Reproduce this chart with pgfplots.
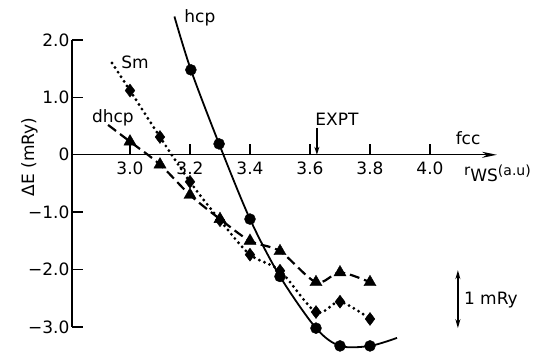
\documentclass[border=0pt]{standalone}
\usepackage{pgfplots}
\pgfplotsset{compat=1.18}
\usetikzlibrary{arrows.meta}
\usepackage{fontspec}
\setmainfont{DejaVu Sans}

\begin{document}
\begin{tikzpicture}
\begin{axis}[
 scale only axis, width=425pt, height=287pt,
 xmin=2.8067, xmax=4.2233, ymin=-3, ymax=2,
 axis x line=middle, axis y line*=left,
 x axis line style={line width=1.4pt, -{Stealth[length=15pt,width=6pt]}},
 y axis line style={line width=1.4pt},
 xtick={3.0,3.2,3.4,3.6,3.8,4.0}, xticklabels={3.0,3.2,3.4,3.6,3.8,4.0},
 ytick={-3,-2,-1,0,1,2}, yticklabels={−3.0,−2.0,−1.0,0,1.0,2.0},
 tick align=inside, major tick length=11pt,
 every tick/.style={line width=1.4pt, black},
 every tick label/.style={font=\fontsize{17}{20}\selectfont},
 xticklabel style={yshift=-4pt},
 yticklabel style={xshift=1pt},
 clip=false,
]
% hcp
\addplot[line width=1.8pt, smooth] coordinates {
 (3.148,2.41) (3.203,1.48) (3.297,0.19) (3.4,-1.12) (3.5,-2.12) (3.62,-3.02) (3.7,-3.33) (3.8,-3.33) (3.89,-3.19)};
\addplot[only marks, mark=*, mark size=5.5pt] coordinates {
 (3.203,1.48) (3.297,0.19) (3.4,-1.12) (3.5,-2.12) (3.62,-3.02) (3.7,-3.33) (3.8,-3.33)};
% Sm
\addplot[line width=3.2pt, line cap=round, dash pattern=on 0pt off 5.5pt, smooth] coordinates {
 (2.94,1.60) (3.0,1.12) (3.1,0.31) (3.2,-0.47) (3.3,-1.14) (3.4,-1.74) (3.5,-2.02) (3.62,-2.74) (3.7,-2.56) (3.8,-2.86)};
\addplot[only marks, mark=diamond*, mark size=6.5pt] coordinates {
 (3.0,1.12) (3.1,0.31) (3.2,-0.47) (3.3,-1.14) (3.4,-1.74) (3.5,-2.02) (3.62,-2.74) (3.7,-2.56) (3.8,-2.86)};
% dhcp
\addplot[line width=2.2pt, dash pattern=on 10pt off 5pt, smooth] coordinates {
 (2.927,0.52) (3.0,0.23) (3.1,-0.17) (3.2,-0.70) (3.3,-1.12) (3.4,-1.50) (3.5,-1.68) (3.62,-2.22) (3.7,-2.05) (3.8,-2.22)};
\addplot[only marks, mark=triangle*, mark size=7pt] coordinates {
 (3.0,0.23) (3.1,-0.17) (3.2,-0.70) (3.3,-1.12) (3.4,-1.50) (3.5,-1.68) (3.62,-2.22) (3.7,-2.05) (3.8,-2.22)};

\path (axis cs:2.5667,-3.470) rectangle (axis cs:4.35,2.697);

\begin{scope}[font=\fontsize{17}{20}\selectfont]
\node at (axis cs:3.233,2.38) {hcp};
\node at (axis cs:3.017,1.62) {Sm};
\node at (axis cs:2.943,0.64) {dhcp};
\node at (axis cs:3.69,0.61) {EXPT};
\node at (axis cs:4.127,0.29) {fcc};
\node at (axis cs:4.225,-0.33) {{\fontsize{15}{18}\selectfont r}\raisebox{-6pt}{WS}{\fontsize{14}{17}\selectfont (a.u)}};
\node[rotate=90] at (axis cs:2.665,-0.04) {ΔE (mRy)};
\node at (axis cs:4.203,-2.53) {1 mRy};
\end{scope}
\draw[line width=1.4pt, -{Stealth[length=8pt,width=5pt]}] (axis cs:3.623,0.47) -- (axis cs:3.623,0.0);
\draw[line width=1.4pt, {Stealth[length=9pt,width=5pt]}-{Stealth[length=9pt,width=5pt]}] (axis cs:4.093,-2.01) -- (axis cs:4.093,-3.02);
\end{axis}
\end{tikzpicture}
\end{document}
